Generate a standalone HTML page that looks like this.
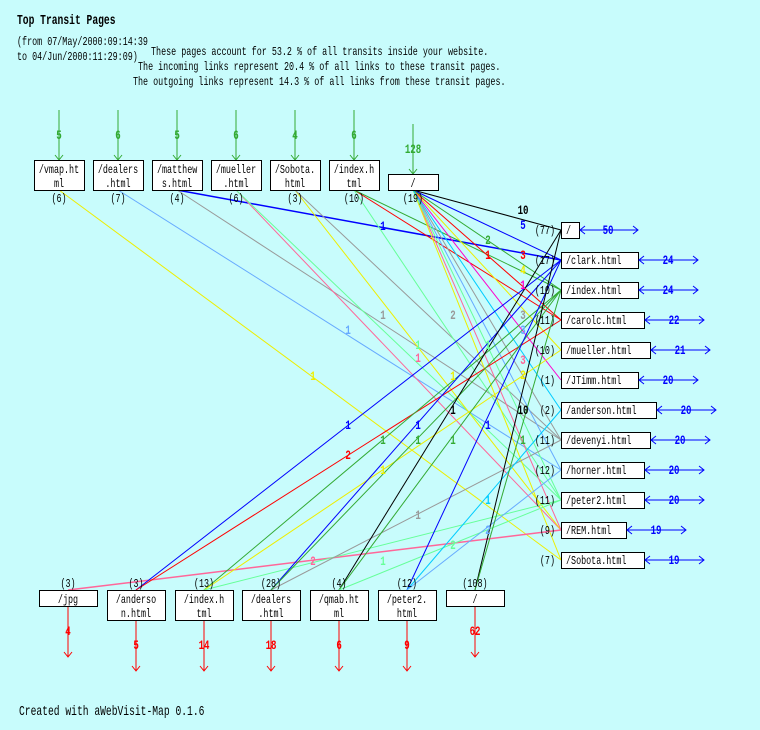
<!DOCTYPE html>
<html><head><meta charset="utf-8"><style>
html,body{margin:0;padding:0;background:#c8fcfc;}
svg{display:block}
text{font-family:"Liberation Mono",monospace;font-size:12px;transform-box:fill-box;transform:scaleX(.7);transform-origin:center;}
text.l{transform-origin:left center}
text.r,.r text{transform-origin:right center}
.l text{transform-origin:left center}
.b text,text.b{font-weight:bold;font-size:13px}
.big{font-size:13.8px !important}
</style></head><body>
<svg width="760" height="730" viewBox="0 0 760 730" xmlns="http://www.w3.org/2000/svg">
<rect width="760" height="730" fill="#c8fcfc"/>
<g class="l">
<text x="17" y="24" class="big" font-weight="bold">Top Transit Pages</text>
<text x="17" y="45">(from 07/May/2000:09:14:39</text>
<text x="17" y="60">to 04/Jun/2000:11:29:09)</text>
<text x="151" y="55">These pages account for 53.2 % of all transits inside your website.</text>
<text x="138" y="70">The incoming links represent 20.4 % of all links to these transit pages.</text>
<text x="133" y="85">The outgoing links represent 14.3 % of all links from these transit pages.</text>
<text x="19" y="715" class="big">Created with aWebVisit-Map 0.1.6</text>
</g>

<g stroke-width="1" fill="none">
<line x1="59" y1="190" x2="561" y2="560" stroke="#ee0"/>
<line x1="118" y1="190" x2="561" y2="470" stroke="#6af"/>
<line x1="177" y1="190" x2="561" y2="260" stroke="#00f" stroke-width="1.5"/>
<line x1="177" y1="190" x2="561" y2="440" stroke="#999"/>
<line x1="236" y1="190" x2="561" y2="530" stroke="#f69"/>
<line x1="236" y1="190" x2="561" y2="500" stroke="#6f9"/>
<line x1="295" y1="190" x2="561" y2="530" stroke="#ee0"/>
<line x1="295" y1="190" x2="561" y2="440" stroke="#999"/>
<line x1="354" y1="190" x2="561" y2="320" stroke="#f00"/>
<line x1="354" y1="190" x2="561" y2="290" stroke="#3a3"/>
<line x1="354" y1="190" x2="561" y2="500" stroke="#6f9"/>
<line x1="413" y1="190" x2="561" y2="230" stroke="#000"/>
<line x1="413" y1="190" x2="561" y2="260" stroke="#00f"/>
<line x1="413" y1="190" x2="561" y2="320" stroke="#f00"/>
<line x1="413" y1="190" x2="561" y2="350" stroke="#ee0"/>
<line x1="413" y1="190" x2="561" y2="380" stroke="#f0c"/>
<line x1="413" y1="190" x2="561" y2="440" stroke="#999"/>
<line x1="413" y1="190" x2="561" y2="470" stroke="#6af"/>
<line x1="413" y1="190" x2="561" y2="530" stroke="#f69"/>
<line x1="413" y1="190" x2="561" y2="560" stroke="#ee0"/>
<line x1="413" y1="190" x2="561" y2="500" stroke="#6f9"/>
<line x1="413" y1="190" x2="561" y2="290" stroke="#3a3"/>
<line x1="413" y1="190" x2="561" y2="410" stroke="#0cf"/>
<line x1="68" y1="590" x2="561" y2="530" stroke="#f69" stroke-width="1.5"/>
<line x1="136" y1="590" x2="561" y2="260" stroke="#00f"/>
<line x1="136" y1="590" x2="561" y2="320" stroke="#f00"/>
<line x1="204" y1="590" x2="561" y2="290" stroke="#3a3"/>
<line x1="204" y1="590" x2="561" y2="350" stroke="#ee0"/>
<line x1="204" y1="590" x2="561" y2="500" stroke="#6f9"/>
<line x1="271" y1="590" x2="561" y2="260" stroke="#00f"/>
<line x1="271" y1="590" x2="561" y2="440" stroke="#999"/>
<line x1="271" y1="590" x2="561" y2="290" stroke="#3a3"/>
<line x1="339" y1="590" x2="561" y2="230" stroke="#000"/>
<line x1="339" y1="590" x2="561" y2="290" stroke="#3a3"/>
<line x1="339" y1="590" x2="561" y2="500" stroke="#6f9"/>
<line x1="407" y1="590" x2="561" y2="260" stroke="#00f"/>
<line x1="407" y1="590" x2="561" y2="410" stroke="#0cf"/>
<line x1="407" y1="590" x2="561" y2="470" stroke="#6af"/>
<line x1="475" y1="590" x2="561" y2="230" stroke="#000"/>
<line x1="475" y1="590" x2="561" y2="290" stroke="#3a3"/>
</g>
<g class="b" text-anchor="middle">
<text x="313" y="380" fill="#ee0">1</text>
<text x="348" y="334" fill="#6af">1</text>
<text x="383" y="230" fill="#00f">1</text>
<text x="383" y="319" fill="#999">1</text>
<text x="418" y="362" fill="#f69">1</text>
<text x="418" y="349" fill="#6f9">1</text>
<text x="453" y="380" fill="#ee0">1</text>
<text x="453" y="319" fill="#999">2</text>
<text x="488" y="259" fill="#f00">1</text>
<text x="488" y="244" fill="#3a3">2</text>
<text x="488" y="349" fill="#6f9">1</text>
<text x="523" y="214" fill="#000">10</text>
<text x="523" y="229" fill="#00f">5</text>
<text x="523" y="259" fill="#f00">3</text>
<text x="523" y="274" fill="#ee0">4</text>
<text x="523" y="289" fill="#f0c">1</text>
<text x="523" y="319" fill="#999">3</text>
<text x="523" y="334" fill="#6af">3</text>
<text x="523" y="364" fill="#f69">3</text>
<text x="523" y="379" fill="#ee0">2</text>
<text x="313" y="565" fill="#f69">2</text>
<text x="348" y="429" fill="#00f">1</text>
<text x="348" y="459" fill="#f00">2</text>
<text x="383" y="444" fill="#3a3">1</text>
<text x="383" y="474" fill="#ee0">1</text>
<text x="383" y="565" fill="#6f9">1</text>
<text x="418" y="429" fill="#00f">1</text>
<text x="418" y="519" fill="#999">1</text>
<text x="418" y="444" fill="#3a3">1</text>
<text x="453" y="414" fill="#000">1</text>
<text x="453" y="444" fill="#3a3">1</text>
<text x="453" y="549" fill="#6f9">2</text>
<text x="488" y="429" fill="#00f">1</text>
<text x="488" y="504" fill="#0cf">1</text>
<text x="488" y="534" fill="#6af">2</text>
<text x="523" y="414" fill="#000">10</text>
<text x="523" y="444" fill="#3a3">1</text>
</g>

<g stroke="#3a3" fill="none">
<path d="M59 110V160M55 155l4 5 4-5"/>
<path d="M118 110V160M114 155l4 5 4-5"/>
<path d="M177 110V160M173 155l4 5 4-5"/>
<path d="M236 110V160M232 155l4 5 4-5"/>
<path d="M295 110V160M291 155l4 5 4-5"/>
<path d="M354 110V160M350 155l4 5 4-5"/>
<path d="M413 124V174M409 169l4 5 4-5"/>
</g>
<g class="b" fill="#3a3" text-anchor="middle">
<text x="59" y="139">5</text><text x="118" y="139">6</text><text x="177" y="139">5</text>
<text x="236" y="139">6</text><text x="295" y="139">4</text><text x="354" y="139">6</text>
<text x="413" y="153">128</text>
</g>
<g fill="#fff" stroke="#000">
<rect x="34.5" y="160.5" width="50" height="30"/>
<rect x="93.5" y="160.5" width="50" height="30"/>
<rect x="152.5" y="160.5" width="50" height="30"/>
<rect x="211.5" y="160.5" width="50" height="30"/>
<rect x="270.5" y="160.5" width="50" height="30"/>
<rect x="329.5" y="160.5" width="50" height="30"/>
<rect x="388.5" y="174.5" width="50" height="16"/>
</g>
<g text-anchor="middle">
<text x="59" y="173">/vmap.ht</text><text x="59" y="187">ml</text>
<text x="118" y="173">/dealers</text><text x="118" y="187">.html</text>
<text x="177" y="173">/matthew</text><text x="177" y="187">s.html</text>
<text x="236" y="173">/mueller</text><text x="236" y="187">.html</text>
<text x="295" y="173">/Sobota.</text><text x="295" y="187">html</text>
<text x="354" y="173">/index.h</text><text x="354" y="187">tml</text>
<text x="413" y="187">/</text>
<text x="59" y="202">(6)</text><text x="118" y="202">(7)</text><text x="177" y="202">(4)</text>
<text x="236" y="202">(6)</text><text x="295" y="202">(3)</text><text x="354" y="202">(10)</text>
<text x="413" y="202">(19)</text>
</g>

<g fill="#fff" stroke="#000">
<rect x="561.5" y="222.5" width="18" height="16"/>
<rect x="561.5" y="252.5" width="77" height="16"/>
<rect x="561.5" y="282.5" width="77" height="16"/>
<rect x="561.5" y="312.5" width="83" height="16"/>
<rect x="561.5" y="342.5" width="89" height="16"/>
<rect x="561.5" y="372.5" width="77" height="16"/>
<rect x="561.5" y="402.5" width="95" height="16"/>
<rect x="561.5" y="432.5" width="89" height="16"/>
<rect x="561.5" y="462.5" width="83" height="16"/>
<rect x="561.5" y="492.5" width="83" height="16"/>
<rect x="561.5" y="522.5" width="65" height="16"/>
<rect x="561.5" y="552.5" width="83" height="16"/>
</g>
<g class="l">
<text x="566" y="234">/</text>
<text x="566" y="264">/clark.html</text>
<text x="566" y="294">/index.html</text>
<text x="566" y="324">/carolc.html</text>
<text x="566" y="354">/mueller.html</text>
<text x="566" y="384">/JTimm.html</text>
<text x="566" y="414">/anderson.html</text>
<text x="566" y="444">/devenyi.html</text>
<text x="566" y="474">/horner.html</text>
<text x="566" y="504">/peter2.html</text>
<text x="566" y="534">/REM.html</text>
<text x="566" y="564">/Sobota.html</text>
</g>
<g text-anchor="end" class="r">
<text x="555" y="234">(77)</text><text x="555" y="264">(17)</text><text x="555" y="294">(10)</text>
<text x="555" y="324">(11)</text><text x="555" y="354">(10)</text><text x="555" y="384">(1)</text>
<text x="555" y="414">(2)</text><text x="555" y="444">(11)</text><text x="555" y="474">(12)</text>
<text x="555" y="504">(11)</text><text x="555" y="534">(9)</text><text x="555" y="564">(7)</text>
</g>
<g stroke="#00f" fill="none">
<path d="M580 230h58M585 226l-5 4 5 4M633 226l5 4-5 4"/>
<path d="M639 260h59M644 256l-5 4 5 4M693 256l5 4-5 4"/>
<path d="M639 290h59M644 286l-5 4 5 4M693 286l5 4-5 4"/>
<path d="M645 320h59M650 316l-5 4 5 4M699 316l5 4-5 4"/>
<path d="M651 350h59M656 346l-5 4 5 4M705 346l5 4-5 4"/>
<path d="M639 380h59M644 376l-5 4 5 4M693 376l5 4-5 4"/>
<path d="M657 410h59M662 406l-5 4 5 4M711 406l5 4-5 4"/>
<path d="M651 440h59M656 436l-5 4 5 4M705 436l5 4-5 4"/>
<path d="M645 470h59M650 466l-5 4 5 4M699 466l5 4-5 4"/>
<path d="M645 500h59M650 496l-5 4 5 4M699 496l5 4-5 4"/>
<path d="M627 530h59M632 526l-5 4 5 4M681 526l5 4-5 4"/>
<path d="M645 560h59M650 556l-5 4 5 4M699 556l5 4-5 4"/>
</g>
<g class="b" fill="#00f" text-anchor="middle">
<text x="608" y="234">50</text><text x="668" y="264">24</text><text x="668" y="294">24</text>
<text x="674" y="324">22</text><text x="680" y="354">21</text><text x="668" y="384">20</text>
<text x="686" y="414">20</text><text x="680" y="444">20</text><text x="674" y="474">20</text>
<text x="674" y="504">20</text><text x="656" y="534">19</text><text x="674" y="564">19</text>
</g>

<g text-anchor="middle">
<text x="68" y="587">(3)</text><text x="136" y="587">(3)</text><text x="204" y="587">(13)</text>
<text x="271" y="587">(28)</text><text x="339" y="587">(4)</text><text x="407" y="587">(12)</text>
<text x="475" y="587">(108)</text>
</g>
<g fill="#fff" stroke="#000">
<rect x="39.5" y="590.5" width="58" height="16"/>
<rect x="107.5" y="590.5" width="58" height="30"/>
<rect x="175.5" y="590.5" width="58" height="30"/>
<rect x="242.5" y="590.5" width="58" height="30"/>
<rect x="310.5" y="590.5" width="58" height="30"/>
<rect x="378.5" y="590.5" width="58" height="30"/>
<rect x="446.5" y="590.5" width="58" height="16"/>
</g>
<g text-anchor="middle">
<text x="68" y="603">/jpg</text>
<text x="136" y="603">/anderso</text><text x="136" y="617">n.html</text>
<text x="204" y="603">/index.h</text><text x="204" y="617">tml</text>
<text x="271" y="603">/dealers</text><text x="271" y="617">.html</text>
<text x="339" y="603">/qmab.ht</text><text x="339" y="617">ml</text>
<text x="407" y="603">/peter2.</text><text x="407" y="617">html</text>
<text x="475" y="603">/</text>
</g>
<g stroke="#f00" fill="none">
<path d="M68 607V657M64 652l4 5 4-5"/>
<path d="M136 621V671M132 666l4 5 4-5"/>
<path d="M204 621V671M200 666l4 5 4-5"/>
<path d="M271 621V671M267 666l4 5 4-5"/>
<path d="M339 621V671M335 666l4 5 4-5"/>
<path d="M407 621V671M403 666l4 5 4-5"/>
<path d="M475 607V657M471 652l4 5 4-5"/>
</g>
<g class="b" fill="#f00" text-anchor="middle">
<text x="68" y="635">4</text><text x="136" y="649">5</text><text x="204" y="649">14</text>
<text x="271" y="649">18</text><text x="339" y="649">6</text><text x="407" y="649">9</text>
<text x="475" y="635">62</text>
</g>
</svg>
</body></html>
